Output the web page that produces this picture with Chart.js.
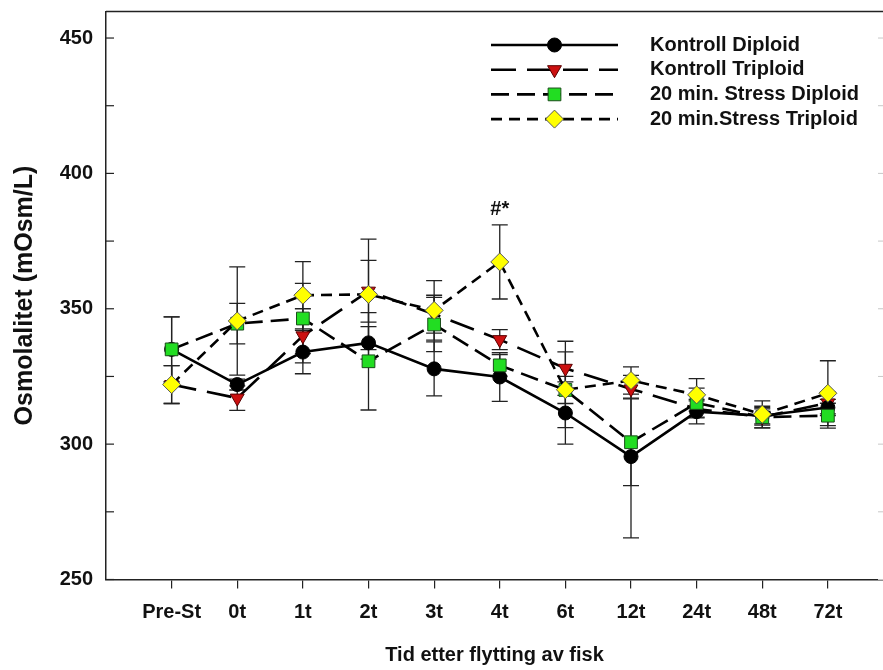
<!DOCTYPE html>
<html>
<head>
<meta charset="utf-8">
<script src="https://cdn.jsdelivr.net/npm/chart.js@4.4.1/dist/chart.umd.min.js"></script>
<style>
    html, body { margin: 0; padding: 0; background: #fff; }
    #wrap { width: 883px; height: 670px; position: relative; }
</style>
</head>
<body>
<div id="wrap"><canvas id="chart"></canvas></div>
<script>
// time points after moving the fish
const categories = ['Pre-St', '0t', '1t', '2t', '3t', '4t', '6t', '12t', '24t', '48t', '72t'];
const yTicks = [250, 275, 300, 325, 350, 375, 400, 425, 450];
const yTickLabels = ['250', '', '300', '', '350', '', '400', '', '450'];

// mean osmolality (mOsm/L) and error (+/-) per group
const kontrollDiploid    = [335, 322, 334, 337.4, 327.8, 324.8, 311.5, 295.4, 312, 310.5, 313.5];
const kontrollDiploidErr = [12, 2, 8, 6, 10, 9, 11.5, 30, 4.5, 3, 3];
const kontrollTriploid    = [322, 317, 340, 356.5, 348, 338.6, 328, 320.4, 313, 310, 315.2];
const kontrollTriploidErr = [7, 4.5, 10, 11.4, 7, 3.7, 10, 3.4, 3, 3, 4];
const stressDiploid    = [335, 344.5, 346.4, 330.6, 344.2, 329.1, 320, 300.7, 315.2, 310, 310.5];
const stressDiploidErr = [12, 7.5, 13, 18, 10, 4, 5, 16, 5.5, 4, 4.6];
const stressTriploid    = [322, 345.5, 355, 355.3, 349.4, 367.3, 320.1, 323.5, 318.2, 311, 318.8];
const stressTriploidErr = [7, 20, 12.4, 20.4, 11, 13.7, 14, 5, 6, 5, 12];

const FONT = "'Liberation Sans', Arial, Helvetica, sans-serif";
const INK = '#111';

function series(label, values, errs, style) {
    return Object.assign({
        label,
        data: values.map((v, i) => ({ x: i, y: v })),
        errors: errs,
        borderColor: '#000',
        borderWidth: 2.6,
        tension: 0,
        fill: false,
        pointBorderColor: '#222',
        pointBorderWidth: 1
    }, style);
}

const datasets = [
    series('Kontroll Diploid', kontrollDiploid, kontrollDiploidErr, {
        borderDash: [], pointStyle: 'circle', pointRadius: 7,
        pointBackgroundColor: '#000', pointBorderColor: '#000', order: 3
    }),
    series('Kontroll Triploid', kontrollTriploid, kontrollTriploidErr, {
        borderDash: [25, 11], pointStyle: 'triangle', pointRotation: 180, pointRadius: 8,
        pointBackgroundColor: '#cc1010', pointBorderColor: '#5a0000', order: 4
    }),
    series('20 min. Stress Diploid', stressDiploid, stressDiploidErr, {
        borderDash: [18, 8], pointStyle: 'rect', pointRadius: 9,
        pointBackgroundColor: '#22dd22', pointBorderColor: '#1a4d1a', order: 2
    }),
    series('20 min.Stress Triploid', stressTriploid, stressTriploidErr, {
        borderDash: [11, 7], pointStyle: 'rectRot', pointRadius: 9,
        pointBackgroundColor: '#ffff00', pointBorderColor: '#555', order: 1
    })
];

const errorBars = {
    id: 'errorBars',
    beforeDatasetsDraw(chart) {
        const { ctx, scales: { x, y } } = chart;
        ctx.save();
        ctx.strokeStyle = '#222';
        ctx.lineWidth = 1.3;
        chart.data.datasets.forEach(ds => {
            ds.data.forEach((p, i) => {
                const e = ds.errors[i];
                const px = x.getPixelForValue(p.x);
                const top = y.getPixelForValue(p.y + e);
                const bot = y.getPixelForValue(p.y - e);
                ctx.beginPath();
                ctx.moveTo(px, top); ctx.lineTo(px, bot);
                ctx.moveTo(px - 8, top); ctx.lineTo(px + 8, top);
                ctx.moveTo(px - 8, bot); ctx.lineTo(px + 8, bot);
                ctx.stroke();
            });
        });
        ctx.restore();
    }
};

// top frame line plus the inward y ticks (left dark, right faint)
const frame = {
    id: 'frame',
    afterDraw(chart) {
        const { ctx, chartArea: a, scales: { y } } = chart;
        ctx.save();
        ctx.strokeStyle = '#222';
        ctx.lineWidth = 1.5;
        ctx.beginPath();
        ctx.moveTo(a.left, a.top); ctx.lineTo(a.right, a.top);
        ctx.stroke();
        ctx.lineWidth = 1.2;
        yTicks.forEach(v => {
            const py = y.getPixelForValue(v);
            ctx.beginPath();
            ctx.moveTo(a.left, py); ctx.lineTo(a.left + 8, py);
            ctx.stroke();
        });
        ctx.strokeStyle = '#c8c8c8';
        ctx.lineWidth = 1;
        yTicks.forEach(v => {
            const py = y.getPixelForValue(v);
            ctx.beginPath();
            ctx.moveTo(a.right - 5, py); ctx.lineTo(a.right, py);
            ctx.stroke();
        });
        ctx.restore();
    }
};

const marks = {
    id: 'marks',
    afterDatasetsDraw(chart) {
        const { ctx, scales: { x, y } } = chart;
        const i = categories.indexOf('4t');
        ctx.save();
        ctx.fillStyle = INK;
        ctx.font = `bold 20px ${FONT}`;
        ctx.textAlign = 'center';
        ctx.textBaseline = 'middle';
        ctx.fillText('#*', x.getPixelForValue(i), y.getPixelForValue(stressTriploid[i] + stressTriploidErr[i]) - 15);
        ctx.restore();
    }
};

const sketchLegend = {
    id: 'sketchLegend',
    afterDraw(chart, args, opts) {
        const { ctx } = chart;
        ctx.save();
        chart.data.datasets.forEach((ds, i) => {
            const cy = opts.y0 + i * opts.step;
            ctx.strokeStyle = ds.borderColor;
            ctx.lineWidth = ds.borderWidth;
            ctx.setLineDash(ds.borderDash || []);
            ctx.beginPath();
            ctx.moveTo(opts.x0, cy); ctx.lineTo(opts.x1, cy);
            ctx.stroke();
            ctx.setLineDash([]);
            ctx.fillStyle = ds.pointBackgroundColor;
            ctx.strokeStyle = ds.pointBorderColor;
            ctx.lineWidth = ds.pointBorderWidth;
            Chart.helpers.drawPoint(ctx, {
                pointStyle: ds.pointStyle, radius: ds.pointRadius,
                rotation: ds.pointRotation || 0, borderWidth: ds.pointBorderWidth
            }, (opts.x0 + opts.x1) / 2, cy);
            ctx.fillStyle = INK;
            ctx.font = `bold 20px ${FONT}`;
            ctx.textAlign = 'left';
            ctx.textBaseline = 'middle';
            ctx.fillText(ds.label, opts.textX, cy);
        });
        ctx.restore();
    }
};

function noPadding(s) {
    s.paddingLeft = 0;
    s.paddingRight = 0;
    s.paddingTop = 0;
    s.paddingBottom = 0;
}

new Chart(document.getElementById('chart'), {
    type: 'line',
    data: { datasets },
    plugins: [errorBars, frame, marks, sketchLegend],
    options: {
        responsive: true,
        maintainAspectRatio: false,
        animation: false,
        devicePixelRatio: 1,
        layout: { autoPadding: false, padding: { top: 11.5, right: 0, bottom: 0, left: 0 } },
        plugins: {
            legend: { display: false },
            tooltip: { enabled: false },
            sketchLegend: { x0: 491, x1: 618, textX: 650, y0: 45, step: 24.7 }
        },
        scales: {
            x: {
                type: 'linear',
                min: -1,
                max: 10.84,
                afterBuildTicks: s => { s.ticks = categories.map((c, i) => ({ value: i })); },
                afterFit: s => { s.height = 90.5; noPadding(s); },
                ticks: {
                    autoSkip: false, maxRotation: 0, padding: 12, color: INK,
                    font: { family: FONT, size: 20, weight: 'bold' },
                    callback: v => categories[v] ?? ''
                },
                grid: { drawOnChartArea: false, drawTicks: true, tickLength: 9, color: '#222', lineWidth: 1.2 },
                border: { display: true, color: '#222', width: 1.5 },
                title: {
                    display: true, text: 'Tid etter flytting av fisk', color: INK,
                    font: { family: FONT, size: 20, weight: 'bold' },
                    padding: { top: 0, bottom: 3 }
                }
            },
            y: {
                type: 'linear',
                min: 250,
                max: 459.8,
                afterBuildTicks: s => { s.ticks = yTicks.map(v => ({ value: v })); },
                afterFit: s => { s.width = 106; noPadding(s); },
                ticks: {
                    autoSkip: false, padding: 13, color: INK,
                    font: { family: FONT, size: 20, weight: 'bold' },
                    callback: v => yTickLabels[yTicks.indexOf(v)] ?? ''
                },
                grid: { drawOnChartArea: false, drawTicks: false, color: '#222' },
                border: { display: true, color: '#222', width: 1.5 },
                title: {
                    display: true, text: 'Osmolalitet (mOsm/L)', color: INK,
                    font: { family: FONT, size: 25, weight: 'bold' },
                    padding: { top: 10, bottom: 0 }
                }
            }
        }
    }
});
</script>
</body>
</html>
